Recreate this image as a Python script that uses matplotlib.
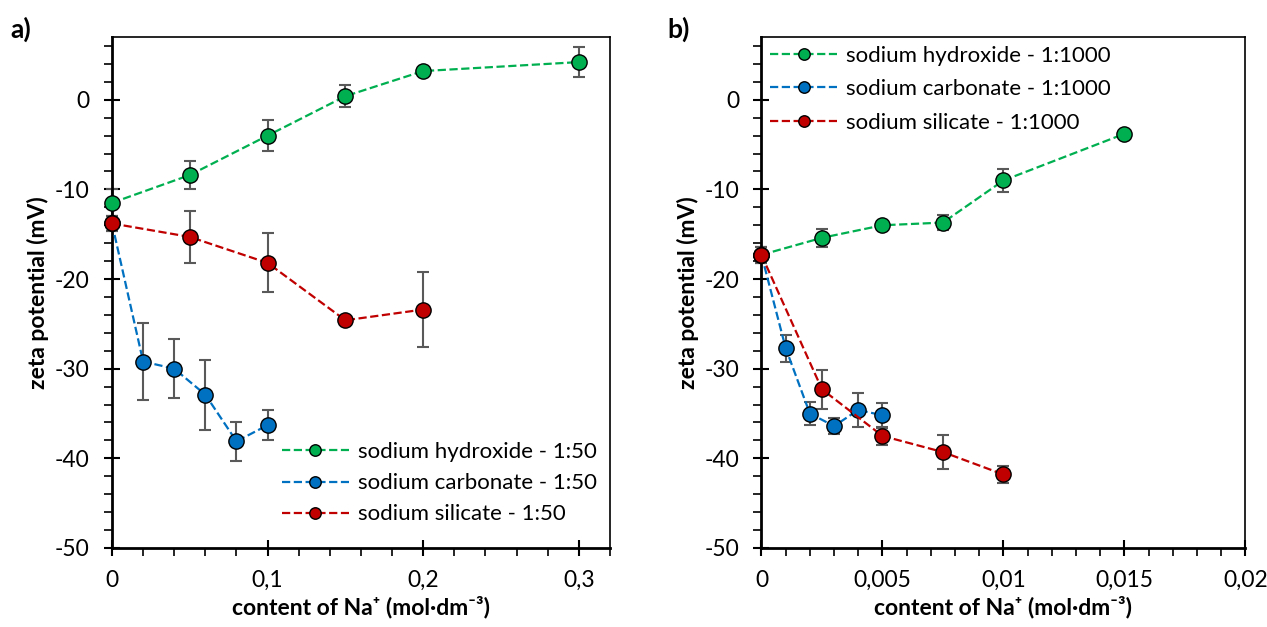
import matplotlib
matplotlib.use("Agg")
import matplotlib.pyplot as plt
from matplotlib.ticker import MultipleLocator, FuncFormatter

plt.rcParams['font.family'] = ['Lato', 'DejaVu Sans']

# panel a) 1:50
a_naoh_x = [0, 0.05, 0.1, 0.15, 0.2, 0.3]
a_naoh_y = [-11.5, -8.4, -4.0, 0.4, 3.2, 4.2]
a_naoh_e = [1.5, 1.6, 1.7, 1.2, 0.0, 1.7]

a_carb_x = [0, 0.02, 0.04, 0.06, 0.08, 0.1]
a_carb_y = [-13.8, -29.2, -30.0, -32.9, -38.1, -36.3]
a_carb_e = [0.8, 4.3, 3.3, 3.9, 2.2, 1.7]

a_sil_x = [0, 0.05, 0.1, 0.15, 0.2]
a_sil_y = [-13.8, -15.3, -18.2, -24.6, -23.4]
a_sil_e = [0.8, 2.9, 3.3, 0.0, 4.2]

# panel b) 1:1000
b_naoh_x = [0, 0.0025, 0.005, 0.0075, 0.01, 0.015]
b_naoh_y = [-17.3, -15.4, -14.0, -13.7, -9.0, -3.8]
b_naoh_e = [0.9, 1.0, 0.0, 0.8, 1.3, 0.0]

b_carb_x = [0, 0.001, 0.002, 0.003, 0.004, 0.005]
b_carb_y = [-17.3, -27.7, -35.0, -36.4, -34.6, -35.2]
b_carb_e = [0.9, 1.5, 1.3, 0.9, 1.9, 1.4]

b_sil_x = [0, 0.0025, 0.005, 0.0075, 0.01]
b_sil_y = [-17.3, -32.3, -37.5, -39.3, -41.8]
b_sil_e = [0.9, 2.2, 1.0, 1.9, 0.9]

green = '#00B050'
blue = '#0070C0'
red = '#C00000'

FS = 16.5


def comma(v, pos):
    return ('%g' % v).replace('.', ',')


def draw(ax, series, ratio):
    for x, y, e, c, name in series:
        ax.errorbar(x, y, yerr=e, fmt='none', ecolor='#595959', elinewidth=1.5,
                    capsize=4, capthick=1.5, zorder=2, clip_on=False)
        ax.plot(x, y, '--', color=c, lw=1.6, marker='o', markersize=11,
                markerfacecolor=c, markeredgecolor='black', markeredgewidth=1,
                label=name + ' - ' + ratio, zorder=3, clip_on=False)
    ax.set_ylim(-50, 7)
    ax.yaxis.set_major_locator(MultipleLocator(10))
    ax.yaxis.set_minor_locator(MultipleLocator(2))
    ax.xaxis.set_major_formatter(FuncFormatter(comma))
    ax.yaxis.set_major_formatter(FuncFormatter(lambda v, p: '%d' % v))
    ax.tick_params(which='major', direction='inout', length=12, width=1.5,
                   labelsize=FS)
    ax.tick_params(axis='x', which='major', pad=10)
    ax.tick_params(axis='y', which='major', pad=10)
    ax.tick_params(which='minor', direction='out', length=6, width=1.2)
    for s in ax.spines.values():
        s.set_linewidth(1.2)
    ax.spines['left'].set_linewidth(2)
    ax.spines['bottom'].set_linewidth(2)
    ax.set_ylabel('zeta potential (mV)', fontsize=FS, fontweight='bold', labelpad=4)
    ax.set_xlabel('content of Na\u207a (mol\u00b7dm\u207b\u00b3)', fontsize=FS,
                  fontweight='bold', labelpad=3)


fig = plt.figure(figsize=(12.67, 6.27), dpi=100)
ax1 = fig.add_axes([0.0884, 0.126, 0.393, 0.815])
ax2 = fig.add_axes([0.601, 0.126, 0.382, 0.815])

draw(ax1, [(a_naoh_x, a_naoh_y, a_naoh_e, green, 'sodium hydroxide'),
           (a_carb_x, a_carb_y, a_carb_e, blue, 'sodium carbonate'),
           (a_sil_x, a_sil_y, a_sil_e, red, 'sodium silicate')], '1:50')
ax1.set_xlim(0, 0.32)
ax1.xaxis.set_major_locator(MultipleLocator(0.1))
ax1.xaxis.set_minor_locator(MultipleLocator(0.02))
ax1.legend(loc='lower right', frameon=False, fontsize=FS - 0.5, handlelength=3.0,
           markerscale=0.75, borderaxespad=0.2, labelspacing=0.5,
           handletextpad=0.4, bbox_to_anchor=(1.0, 0.02))

draw(ax2, [(b_naoh_x, b_naoh_y, b_naoh_e, green, 'sodium hydroxide'),
           (b_carb_x, b_carb_y, b_carb_e, blue, 'sodium carbonate'),
           (b_sil_x, b_sil_y, b_sil_e, red, 'sodium silicate')], '1:1000')
ax2.set_xlim(0, 0.02)
ax2.xaxis.set_major_locator(MultipleLocator(0.005))
ax2.xaxis.set_minor_locator(MultipleLocator(0.001))
ax2.legend(loc='upper left', frameon=False, fontsize=FS - 0.5, handlelength=3.0,
           markerscale=0.75, borderaxespad=0.0, labelspacing=0.6,
           handletextpad=0.4)

fig.text(0.008, 0.94, 'a)', fontsize=19, fontweight='bold')
fig.text(0.527, 0.94, 'b)', fontsize=19, fontweight='bold')

fig.savefig('out.png', dpi=100)
